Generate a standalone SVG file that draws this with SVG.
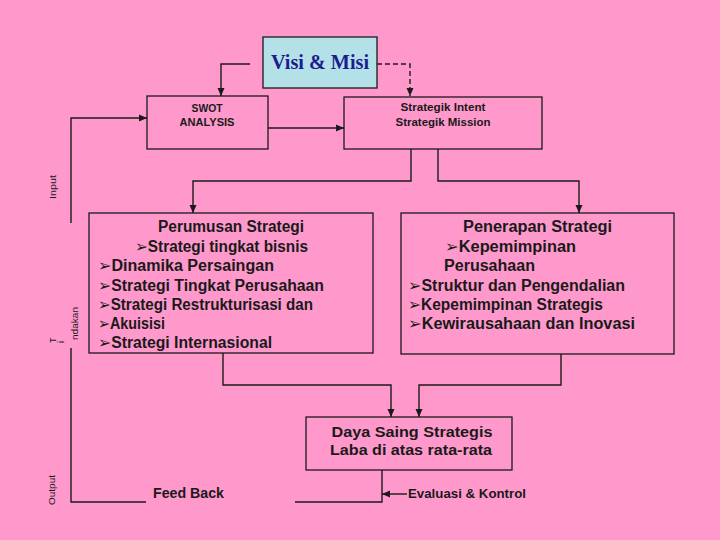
<svg xmlns="http://www.w3.org/2000/svg" width="720" height="540" viewBox="0 0 720 540">
<defs>
<marker id="ah" viewBox="0 0 8 8" refX="8" refY="4" markerWidth="8" markerHeight="8" markerUnits="userSpaceOnUse" orient="auto">
<path d="M0,0.5 L8,4 L0,7.5 Z" fill="#1a1a1a"/>
</marker>
<style>
.box{fill:#ff99cc;stroke:#1a1a1a;stroke-width:1.3}
.ln{fill:none;stroke:#1a1a1a;stroke-width:1.4}
.arr{marker-end:url(#ah)}
.t{font-family:"Liberation Sans","DejaVu Sans",sans-serif;font-weight:bold;fill:#1a1a1a}
.s11{font-size:11px}
.s16{font-size:16px}
.s14{font-size:14px}
.s12{font-size:12px}
.lab{font-family:"Liberation Sans","DejaVu Sans",sans-serif;font-size:9px;fill:#1a1a1a}
</style>
</defs>
<rect width="720" height="540" fill="#ff99cc"/>

<g id="connectors">
<path class="ln arr" d="M250,64 H221 V96"/>
<path class="ln arr" d="M377,64 H410 V96" stroke-dasharray="5,3"/>
<path class="ln arr" d="M268,128 H344"/>
<path class="ln arr" d="M71,223 V118 H147"/>
<path class="ln arr" d="M411,149 V181 H193 V213"/>
<path class="ln arr" d="M438,149 V181 H579 V213"/>
<path class="ln arr" d="M223,353 V385 H391 V417"/>
<path class="ln arr" d="M561,354 V385 H419 V417"/>
<path class="ln" d="M71,348 V502 H146"/>
<path class="ln" d="M382,470 V502 H295"/>
<path class="ln arr" d="M407,494 H382"/>
</g>

<g id="visi">
<rect x="263" y="37" width="114" height="51" fill="#b4e1e8" stroke="#1a1a1a" stroke-width="1.3"/>
<text x="320" y="69" text-anchor="middle" font-family="'Liberation Serif',serif" font-weight="bold" font-size="20" fill="#1c1c8e" textLength="98" lengthAdjust="spacingAndGlyphs">Visi &amp; Misi</text>
</g>

<g id="swot">
<rect class="box" x="147" y="96" width="121" height="53"/>
<text class="t s11" x="207" y="112" text-anchor="middle" textLength="31" lengthAdjust="spacingAndGlyphs">SWOT</text>
<text class="t s11" x="207" y="126" text-anchor="middle" textLength="55" lengthAdjust="spacingAndGlyphs">ANALYSIS</text>
</g>

<g id="strategik">
<rect class="box" x="344" y="97" width="198" height="52"/>
<text class="t s11" x="443" y="111" text-anchor="middle" textLength="85" lengthAdjust="spacingAndGlyphs">Strategik Intent</text>
<text class="t s11" x="443" y="126" text-anchor="middle" textLength="95" lengthAdjust="spacingAndGlyphs">Strategik Mission</text>
</g>

<g id="perumusan">
<rect class="box" x="89" y="213" width="284" height="140"/>
<text class="t s16" x="158" y="232" textLength="146" lengthAdjust="spacingAndGlyphs">Perumusan Strategi</text>
<text class="t s16" x="135" y="252" textLength="173" lengthAdjust="spacingAndGlyphs">➢Strategi tingkat bisnis</text>
<text class="t s16" x="98" y="271" textLength="176" lengthAdjust="spacingAndGlyphs">➢Dinamika Persaingan</text>
<text class="t s16" x="98" y="291" textLength="226" lengthAdjust="spacingAndGlyphs">➢Strategi Tingkat Perusahaan</text>
<text class="t s16" x="98" y="310" textLength="215" lengthAdjust="spacingAndGlyphs">➢Strategi Restrukturisasi dan</text>
<text class="t s16" x="98" y="329" textLength="67" lengthAdjust="spacingAndGlyphs">➢Akuisisi</text>
<text class="t s16" x="98" y="348" textLength="174" lengthAdjust="spacingAndGlyphs">➢Strategi Internasional</text>
</g>

<g id="penerapan">
<rect class="box" x="401" y="213" width="273" height="141"/>
<text class="t s16" x="463" y="232" textLength="149" lengthAdjust="spacingAndGlyphs">Penerapan Strategi</text>
<text class="t s16" x="445" y="252" textLength="131" lengthAdjust="spacingAndGlyphs">➢Kepemimpinan</text>
<text class="t s16" x="444" y="271" textLength="91" lengthAdjust="spacingAndGlyphs">Perusahaan</text>
<text class="t s16" x="408" y="291" textLength="217" lengthAdjust="spacingAndGlyphs">➢Struktur dan Pengendalian</text>
<text class="t s16" x="408" y="310" textLength="195" lengthAdjust="spacingAndGlyphs">➢Kepemimpinan Strategis</text>
<text class="t s16" x="408" y="329" textLength="227" lengthAdjust="spacingAndGlyphs">➢Kewirausahaan dan Inovasi</text>
</g>

<g id="daya">
<rect class="box" x="306" y="417" width="206" height="53"/>
<text class="t s14" x="412" y="437" text-anchor="middle" textLength="161" lengthAdjust="spacingAndGlyphs">Daya Saing Strategis</text>
<text class="t s14" x="411" y="455" text-anchor="middle" textLength="162" lengthAdjust="spacingAndGlyphs">Laba di atas rata-rata</text>
</g>

<g id="labels">
<text class="lab" transform="translate(56,199) rotate(-90)" textLength="24" lengthAdjust="spacingAndGlyphs">Input</text>
<text class="lab" transform="translate(56,343) rotate(-90)">T</text>
<text class="lab" transform="translate(64,343) rotate(-90)">i</text>
<text class="lab" transform="translate(78,340) rotate(-90)" textLength="33" lengthAdjust="spacingAndGlyphs">ndakan</text>
<text class="lab" transform="translate(55,505) rotate(-90)" textLength="30" lengthAdjust="spacingAndGlyphs">Output</text>
<text class="t s14" x="153" y="498" textLength="71" lengthAdjust="spacingAndGlyphs">Feed Back</text>
<text class="t s12" x="408" y="498" textLength="118" lengthAdjust="spacingAndGlyphs">Evaluasi &amp; Kontrol</text>
</g>
</svg>
